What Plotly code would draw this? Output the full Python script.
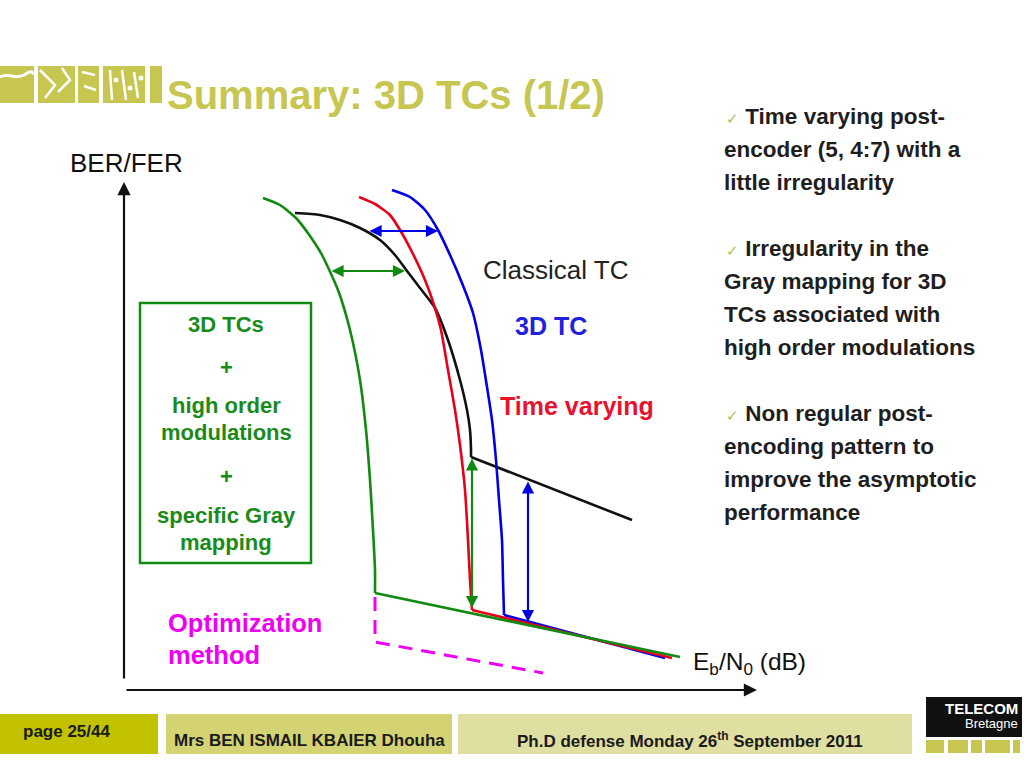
import plotly.graph_objects as go

# ---------------- data (schematic curves, pixel units) -------------
# waterfall part of each curve, then its error-floor part
classical_x = [295, 320, 340, 360, 380, 395, 407, 420, 435, 448, 460, 467, 470, 471, 471]
classical_y = [213, 215, 220, 228, 240, 255, 271, 288, 308, 340, 380, 410, 430, 450, 457]
classical_floor_x = [471, 632]
classical_floor_y = [457, 520]

td3_x = [392, 410, 425, 438, 450, 462, 473, 481, 487, 492, 496, 499, 502, 503, 504]
td3_y = [190, 197, 210, 230, 255, 283, 313, 350, 387, 420, 460, 500, 540, 580, 615]
td3_floor_x = [504, 665]
td3_floor_y = [615, 658]

tv_x = [359, 375, 390, 400, 412, 425, 435, 441, 448, 455, 460, 465, 468, 470, 472]
tv_y = [197, 204, 215, 230, 252, 280, 308, 330, 370, 410, 445, 490, 540, 580, 610]
tv_floor_x = [472, 672]
tv_floor_y = [610, 658]

hom_x = [263, 280, 296, 310, 322, 338, 350, 360, 366, 370, 373, 375, 375]
hom_y = [198, 205, 218, 236, 255, 290, 330, 380, 430, 480, 530, 570, 593]
hom_floor_x = [375, 680]
hom_floor_y = [593, 657]

opt_x = [375, 375, 543]
opt_y = [597, 642, 673]

# double arrows: (x0, y0, x1, y1, colour)
gain_arrows = [
    (368, 231, 438, 231, "#0000e6"),
    (330, 271, 405, 271, "#108a10"),
    (472, 457, 472, 608, "#108a10"),
    (528, 480, 528, 622, "#0000e6"),
]

box_lines = ["3D TCs", "+", "high order", "modulations", "+", "specific Gray", "mapping"]
box_line_y = [324, 367, 405, 432, 476, 515, 542]

bullet_lines = [
    ["Time varying post-", "encoder (5, 4:7) with a", "little irregularity"],
    ["Irregularity in the", "Gray mapping for 3D", "TCs associated with", "high order modulations"],
    ["Non regular post-", "encoding pattern to", "improve the asymptotic", "performance"],
]
bullet_y = [[116, 149, 182], [248, 281, 314, 347], [413, 446, 479, 512]]

title = "Summary: 3D TCs (1/2)"
footer_page = "page 25/44"
footer_author = "Mrs BEN ISMAIL KBAIER Dhouha"
footer_event = "Ph.D defense Monday 26<sup>th</sup> September 2011"

# ---------------- figure ----------------
FONT = "Liberation Sans, Arial, Helvetica, sans-serif"
OLIVE = "#c6c650"
GREEN = "#108a10"
BLUE = "#0000e6"
RED = "#e6001a"
MAGENTA = "#f000f0"

fig = go.Figure()

def curve(x, y, color, spline=True):
    fig.add_trace(go.Scatter(x=x, y=y, mode="lines", hoverinfo="skip",
                             line=dict(color=color, width=2.6,
                                       shape="spline" if spline else "linear", smoothing=0.6)))

fig.add_trace(go.Scatter(x=opt_x, y=opt_y, mode="lines", hoverinfo="skip",
                         line=dict(color=MAGENTA, width=3, dash="14px,9px")))
curve(classical_x, classical_y, "#111111")
curve(classical_floor_x, classical_floor_y, "#111111", False)
curve(td3_x, td3_y, BLUE)
curve(td3_floor_x, td3_floor_y, BLUE, False)
curve(tv_x, tv_y, RED)
curve(tv_floor_x, tv_floor_y, RED, False)
curve(hom_x, hom_y, GREEN)
curve(hom_floor_x, hom_floor_y, GREEN, False)

ann = []
shapes = []

# axes (arrows)
ann.append(dict(x=124, y=182, ax=124, ay=680, xref="x", yref="y", axref="x", ayref="y",
                showarrow=True, arrowhead=2, arrowsize=1.2, arrowwidth=2.2, arrowcolor="#111111", text="", standoff=0))
ann.append(dict(x=757, y=690, ax=125, ay=690, xref="x", yref="y", axref="x", ayref="y",
                showarrow=True, arrowhead=2, arrowsize=1.2, arrowwidth=2.2, arrowcolor="#111111", text="", standoff=0))

for x0, y0, x1, y1, c in gain_arrows:
    ann.append(dict(x=x1, y=y1, ax=x0, ay=y0, xref="x", yref="y", axref="x", ayref="y",
                    showarrow=True, arrowhead=2, arrowside="end+start", arrowsize=1.1,
                    arrowwidth=2.2, arrowcolor=c, text="", standoff=0, startstandoff=0))

def text(x, y, s, size, color="#111111", bold=False, xanchor="left", family=FONT):
    ann.append(dict(x=x, y=y, xref="x", yref="y", text=("<b>%s</b>" % s) if bold else s,
                    showarrow=False, xanchor=xanchor, yanchor="middle",
                    font=dict(family=family, size=size, color=color)))

# labels in chart
text(68, 163, "BER/FER", 26)
text(481, 270, "Classical TC", 26, "#222222")
text(513, 326, "3D TC", 25, "#2020e0", bold=True)
text(498, 406, "Time varying", 25, "#e8122d", bold=True)
text(166, 623, "Optimization", 25.5, MAGENTA, bold=True)
text(166, 655, "method", 25.5, MAGENTA, bold=True)
text(691, 663, "E<sub>b</sub>/N<sub>0</sub> (dB)", 24.5, "#111111")

# green box
shapes.append(dict(type="rect", x0=140, y0=303, x1=311, y1=563, xref="x", yref="y",
                   line=dict(color=GREEN, width=2.5), fillcolor="rgba(0,0,0,0)"))
for s, y in zip(box_lines, box_line_y):
    text(226, y, s, 22, "#1a8a1a", bold=True, xanchor="center")

# bullets on the right
check = '<span style="color:#a8c060;font-size:15px">✓</span> '
for para, ys in zip(bullet_lines, bullet_y):
    for i, (s, y) in enumerate(zip(para, ys)):
        if i == 0:
            text(724, y, check + "<b>%s</b>" % s, 22.5, "#1e1e1e")
        else:
            text(722, y, s, 22.5, "#1e1e1e", bold=True)

# title + logo
text(165, 95, title, 40, OLIVE, bold=True)
logo_blocks = [(0, 34), (38, 75), (78, 99), (103, 145), (150, 162)]
for x0, x1 in logo_blocks:
    shapes.append(dict(type="rect", x0=x0, x1=x1, y0=66, y1=103, xref="x", yref="y",
                       line=dict(width=0), fillcolor=OLIVE))
# logo texture (white strokes)
shapes.append(dict(type="path", path="M 0 77 C 8 72, 16 80, 24 75 S 32 72, 34 74", xref="x", yref="y",
                   line=dict(color="white", width=3)))
for path in ["M 40 70 L 55 85 L 45 98", "M 62 68 L 70 80 L 58 92", "M 82 72 L 95 75", "M 84 86 L 96 90",
             "M 110 70 L 112 100", "M 122 70 L 126 100", "M 134 72 L 138 98"]:
    shapes.append(dict(type="path", path=path, xref="x", yref="y", line=dict(color="white", width=2.5)))
for (cx, cy) in [(116, 80), (130, 88), (141, 78)]:
    shapes.append(dict(type="circle", x0=cx - 2.5, x1=cx + 2.5, y0=cy - 2.5, y1=cy + 2.5, xref="x", yref="y",
                       line=dict(width=0), fillcolor="white"))

# footer
shapes.append(dict(type="rect", x0=0, x1=158, y0=714, y1=754, xref="x", yref="y", line=dict(width=0), fillcolor="#c2c200"))
shapes.append(dict(type="rect", x0=166, x1=452, y0=714, y1=754, xref="x", yref="y", line=dict(width=0), fillcolor="#d3d373"))
shapes.append(dict(type="rect", x0=458, x1=912, y0=714, y1=754, xref="x", yref="y", line=dict(width=0), fillcolor="#e0dfa2"))
text(21, 731, footer_page, 17, "#1a1a1a", bold=True)
text(172, 740, footer_author, 17, "#1a1a1a", bold=True)
text(690, 740, footer_event, 17, "#1a1a1a", bold=True, xanchor="center")

# TELECOM Bretagne logo
shapes.append(dict(type="rect", x0=926, x1=1022, y0=697, y1=737, xref="x", yref="y", line=dict(width=0), fillcolor="#111111"))
text(1020, 708, "<b>TELECOM</b>", 15, "white", xanchor="right", family="Liberation Sans Narrow, Arial Narrow, " + FONT)
text(1020, 723, "Bretagne", 13, "white", xanchor="right", family="Liberation Sans Narrow, Arial Narrow, " + FONT)
for x0, x1 in [(926, 944), (948, 968), (971, 982), (985, 1010), (1013, 1020)]:
    shapes.append(dict(type="rect", x0=x0, x1=x1, y0=740, y1=753, xref="x", yref="y", line=dict(width=0), fillcolor=OLIVE))

fig.update_layout(
    width=1024, height=768, margin=dict(l=0, r=0, t=0, b=0),
    paper_bgcolor="white", plot_bgcolor="white", showlegend=False,
    xaxis=dict(range=[0, 1024], visible=False, fixedrange=True),
    yaxis=dict(range=[768, 0], visible=False, fixedrange=True),
    annotations=ann, shapes=shapes,
)

fig.write_html("out.html", config={"displayModeBar": False},
               post_script="document.body.style.margin='0';document.body.style.overflow='hidden';")
